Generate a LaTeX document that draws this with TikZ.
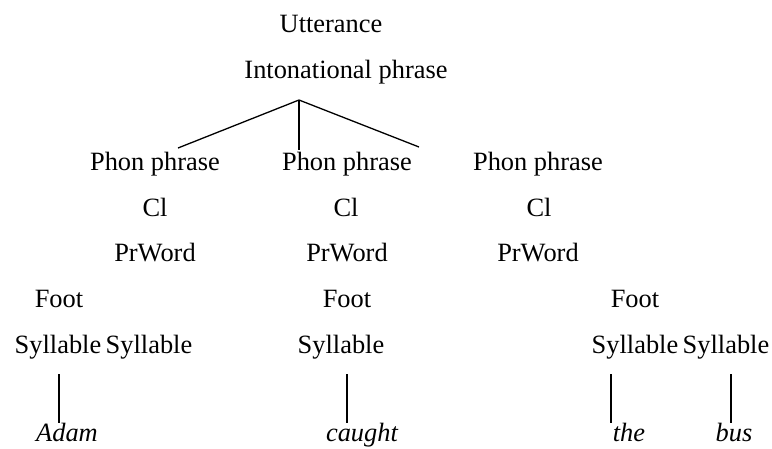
\documentclass[tikz,border=0pt]{standalone}
\usepackage{fontspec}
\setmainfont{Liberation Serif}
\usetikzlibrary{positioning, calc}
\tikzset{
  every node/.style={font=\fontsize{26.4}{30}\selectfont},
  % prosodic level labels
  lvl/.style={inner sep=0pt, anchor=base},
  word/.style={lvl, font=\fontsize{26.4}{30}\selectfont\itshape},
  branch/.style={line width=1.3pt},
}
\begin{document}
\begin{tikzpicture}[x=1pt, y=1pt]
\useasboundingbox (0,0) rectangle (772,-448);
% top of the hierarchy
\node[lvl] (utt) at (331,-32) {Utterance};
\node[lvl] (ip)  at (346,-78) {Intonational phrase};
% phonological phrases
\node[lvl] (pp1) at (155,-170) {Phon phrase};
\node[lvl] (pp2) at (347,-170) {Phon phrase};
\node[lvl] (pp3) at (538,-170) {Phon phrase};
\node[lvl] (cl1) at (155,-216) {Cl};
\node[lvl] (cl2) at (346,-216) {Cl};
\node[lvl] (cl3) at (539,-216) {Cl};
\node[lvl] (pw1) at (155,-261) {PrWord};
\node[lvl] (pw2) at (347,-261) {PrWord};
\node[lvl] (pw3) at (538,-261) {PrWord};
\node[lvl] (ft1) at (59,-307)  {Foot};
\node[lvl] (ft2) at (347,-307) {Foot};
\node[lvl] (ft3) at (635,-307) {Foot};
\node[lvl] (syl1) at (58,-353)  {Syllable};
\node[lvl] (syl2) at (149,-353) {Syllable};
\node[lvl] (syl3) at (341,-353) {Syllable};
\node[lvl] (syl4) at (635,-353) {Syllable};
\node[lvl] (syl5) at (726,-353) {Syllable};
% segmental string
\node[word] (adam)   at (67,-441)  {Adam};
\node[word] (caught) at (362,-441) {caught};
\node[word] (the)    at (629,-441) {the};
\node[word] (bus)    at (734,-441) {bus};
% branching under the intonational phrase
\coordinate (apex) at (299,-100);
\coordinate (br1) at (178,-148);
\coordinate (br2) at (299,-150);
\coordinate (br3) at (419,-147);
\draw[branch] (br1) -- (apex) -- (br3);
\draw[branch] (apex) -- (br2);
% association lines
\coordinate (s1t) at (59,-374);  \coordinate (s1b) at (59,-423);
\coordinate (s3t) at (347,-374); \coordinate (s3b) at (347,-423);
\coordinate (s4t) at (611,-374); \coordinate (s4b) at (611,-423);
\coordinate (s5t) at (731,-374); \coordinate (s5b) at (731,-423);
\draw[branch] (s1t) -- (s1b);
\draw[branch] (s3t) -- (s3b);
\draw[branch] (s4t) -- (s4b);
\draw[branch] (s5t) -- (s5b);
\end{tikzpicture}
\end{document}
